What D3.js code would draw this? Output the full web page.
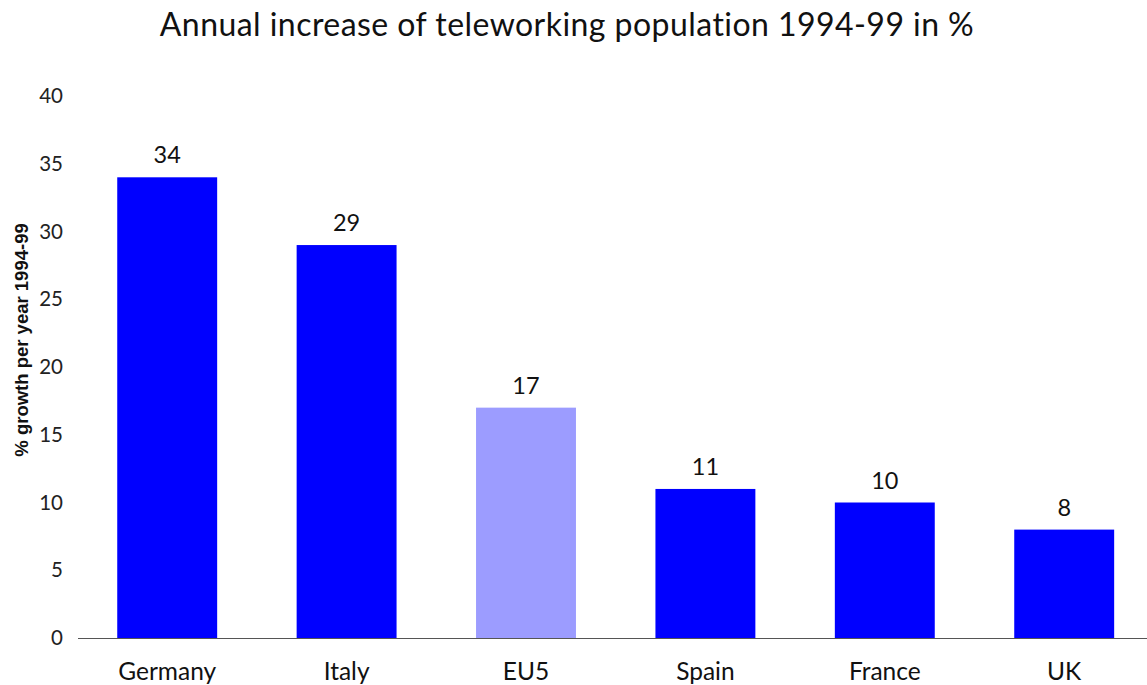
<!DOCTYPE html>
<html>
<head>
<meta charset="utf-8">
<script src="https://cdn.jsdelivr.net/npm/d3@7"></script>
<style>
  html, body { margin: 0; padding: 0; background: #fff; }
  svg { display: block; }
</style>
</head>
<body>
<svg id="chart" width="1147" height="685"></svg>
<script>
// Annual growth of teleworking population, 1994-99
const categories = ["Germany", "Italy", "EU5", "Spain", "France", "UK"];
const growth = [34, 29, 17, 11, 10, 8];
const yTicks = [0, 5, 10, 15, 20, 25, 30, 35, 40];
const highlight = ["EU5"];

const width = 1147, height = 685;
const svg = d3.select("#chart");
const font = "Lato, 'Open Sans', sans-serif";

const x = d3.scaleBand()
  .domain(categories)
  .range([77.5, 77.5 + 6 * 179.4])
  .paddingInner(0.443)
  .paddingOuter(0.2215);

const y = d3.scaleLinear().domain([0, 40]).range([638, 96]);

// title
svg.append("text")
  .attr("x", 567).attr("y", 36)
  .attr("text-anchor", "middle")
  .attr("font-family", font)
  .attr("font-size", 32)
  .attr("letter-spacing", 0.45)
  .attr("fill", "#111")
  .text("Annual increase of teleworking population 1994-99 in %");

// y axis title
svg.append("text")
  .attr("transform", `translate(28, 340) rotate(-90)`)
  .attr("text-anchor", "middle")
  .attr("font-family", "'Liberation Sans', Arial, sans-serif")
  .attr("font-weight", "bold")
  .attr("font-size", 18.5)
  .attr("fill", "#111")
  .text("% growth per year 1994-99");

// y tick labels
const yAxis = svg.append("g")
  .attr("transform", "translate(63,0)")
  .call(d3.axisLeft(y).tickValues(yTicks).tickSize(0).tickPadding(0));
yAxis.select(".domain").remove();
yAxis.selectAll("text")
  .attr("font-family", font)
  .attr("font-size", 20.5)
  .attr("fill", "#222");

// bars
svg.append("g").selectAll("rect")
  .data(categories)
  .join("rect")
  .attr("x", d => x(d))
  .attr("width", x.bandwidth())
  .attr("y", (d, i) => y(growth[i]))
  .attr("height", (d, i) => y(0) - y(growth[i]))
  .attr("fill", d => highlight.includes(d) ? "#9c9cff" : "#0000ff");

// value labels
svg.append("g").selectAll("text")
  .data(categories)
  .join("text")
  .attr("x", d => x(d) + x.bandwidth() / 2)
  .attr("y", (d, i) => y(growth[i]) - 14)
  .attr("text-anchor", "middle")
  .attr("font-family", font)
  .attr("font-size", 23.5)
  .attr("fill", "#111")
  .text((d, i) => growth[i]);

// x axis category labels
svg.append("g").selectAll("text")
  .data(categories)
  .join("text")
  .attr("x", d => x(d) + x.bandwidth() / 2)
  .attr("y", 680)
  .attr("text-anchor", "middle")
  .attr("font-family", font)
  .attr("font-size", 24.5)
  .attr("fill", "#111")
  .text(d => d);

svg.append("line")
  .attr("x1", 78).attr("x2", width)
  .attr("y1", y(0) + 0.5).attr("y2", y(0) + 0.5)
  .attr("stroke", "#555").attr("stroke-width", 1);
</script>
</body>
</html>
